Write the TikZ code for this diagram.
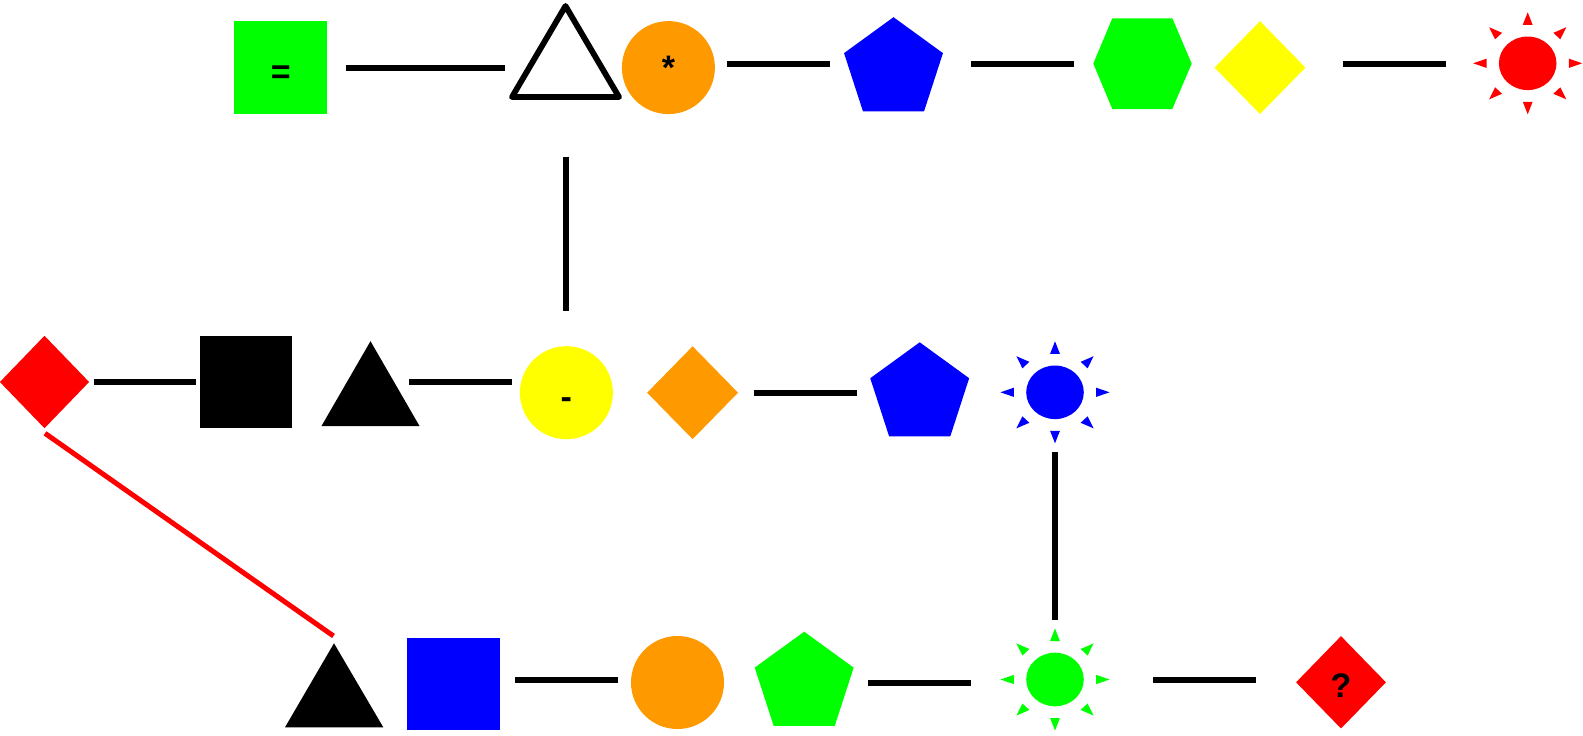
\documentclass[tikz,border=0pt]{standalone}
\usepackage{fontspec}
\setmainfont{Liberation Sans}
\usetikzlibrary{shapes.geometric,calc}
\definecolor{cgreen}{HTML}{00FF00}
\definecolor{corange}{HTML}{FF9900}
\definecolor{cblue}{HTML}{0000FF}
\definecolor{cyellow}{HTML}{FFFF00}
\definecolor{cred}{HTML}{FF0000}
\tikzset{
  conn/.style={line width=6pt, black},
  redconn/.style={line width=5pt, cred},
  lbl/.style={font=\fontsize{34}{38}\selectfont\bfseries, anchor=base, inner sep=0pt, text=black},
  sqbox/.style={rectangle, inner sep=0pt, minimum width=#1, minimum height=#1},
  circbox/.style={circle, inner sep=0pt, minimum size=93pt},
  diabox/.style 2 args={diamond, inner sep=0pt, minimum width=#1, minimum height=#2},
  pics/sun/.style={code={
    \coordinate (-c) at (0,0);
    \fill[#1] (0,0) ellipse (28.8 and 26.8);
    \begin{scope}[xscale=1.07]
      \foreach \a in {0,45,...,315}{\fill[#1,rotate=\a] (38.5,-4.6) -- (51,0) -- (38.5,4.6) -- cycle;}
    \end{scope}
  }}
}
\begin{document}
\begin{tikzpicture}[x=1pt,y=-1pt]
\useasboundingbox (0,0) rectangle (1583,736);

% ---------- row 1 ----------
\node[sqbox=93pt, fill=cgreen] (gsq) at (280.7,67.6) {};
\node[lbl] (tgsq) at (280.7,83) {=};
\coordinate (otri) at (565.5,6);
\draw[line width=5.8pt, line join=round, fill=white] (otri) -- (619,97) -- (512,97) -- cycle;
\node[circbox, fill=corange] (ocirc1) at (668.4,67.6) {};
\node[lbl] (tocirc1) at (668.4,79.5) {*};
\coordinate (bpent1) at (893.5,69.2);
\fill[cblue, shift={(bpent1)}] (-90:52) -- (-18:52) -- (54:52) -- (126:52) -- (198:52) -- cycle;
\coordinate (ghex) at (1142.5,63.6);
\fill[cgreen] (1112.3,18.3) -- (1172.3,18.3) -- (1191.7,63.6) -- (1172.3,109) -- (1112.3,109) -- (1093.3,63.6) -- cycle;
\node[diabox={91pt}{93pt}, fill=cyellow] (ydia) at (1260,67.6) {};
\pic (rsun) at (1527.7,63.3) {sun=cred};

% ---------- row 2 ----------
\node[diabox={89.4pt}{92.6pt}, fill=cred] (rdia1) at (44.5,382) {};
\node[sqbox=92pt, fill=black] (ksq) at (245.9,382.1) {};
\coordinate (ktri1) at (370.5,341.2);
\fill[black] (ktri1) -- (419.5,426) -- (321.5,426) -- cycle;
\node[circbox, fill=cyellow] (ycirc) at (566.4,392.7) {};
\node[lbl] (tycirc) at (566.4,408) {-};
\node[diabox={91pt}{93pt}, fill=corange] (odia) at (692.6,392.7) {};
\coordinate (bpent2) at (919.7,394.3);
\fill[cblue, shift={(bpent2)}] (-90:52) -- (-18:52) -- (54:52) -- (126:52) -- (198:52) -- cycle;
\pic (bsun) at (1055,392.3) {sun=cblue};

% ---------- row 3 ----------
\coordinate (ktri2) at (334,643.3);
\fill[black] (ktri2) -- (383.3,727.3) -- (285,727.3) -- cycle;
\node[sqbox=92.9pt, fill=cblue] (bsq) at (453.3,684) {};
\node[circbox, fill=corange] (ocirc2) at (677.5,682.5) {};
\coordinate (gpent) at (804.2,683.7);
\fill[cgreen, shift={(gpent)}] (-90:52) -- (-18:52) -- (54:52) -- (126:52) -- (198:52) -- cycle;
\pic (gsun) at (1055,679.5) {sun=cgreen};
\node[diabox={90pt}{92.5pt}, fill=cred] (rdia2) at (1341,682.3) {};
\node[lbl] (trdia2) at (1341,697.3) {?};

% ---------- connector ends ----------
\coordinate (c1a) at (346,68);   \coordinate (c1b) at (505,68);
\coordinate (c2a) at (727,63.6); \coordinate (c2b) at (830,63.6);
\coordinate (c3a) at (971,63.6); \coordinate (c3b) at (1074,63.6);
\coordinate (c4a) at (1343,63.6);\coordinate (c4b) at (1446,63.6);
\coordinate (c5a) at (566.4,156.5); \coordinate (c5b) at (566.4,311);
\coordinate (c6a) at (94,382);   \coordinate (c6b) at (196,382);
\coordinate (c7a) at (409,382);  \coordinate (c7b) at (512,382);
\coordinate (c8a) at (754,392.7);\coordinate (c8b) at (857,392.7);
\coordinate (c9a) at (1055,452); \coordinate (c9b) at (1055,620);
\coordinate (c10a) at (515,679.5); \coordinate (c10b) at (618,679.5);
\coordinate (c11a) at (868,682.5); \coordinate (c11b) at (971,682.5);
\coordinate (c12a) at (1153,679.5);\coordinate (c12b) at (1256,679.5);
\coordinate (r1a) at (45,433.3); \coordinate (r1b) at (333.5,636);

% ---------- connectors ----------
\draw[conn] (c1a) -- (c1b);
\draw[conn] (c2a) -- (c2b);
\draw[conn] (c3a) -- (c3b);
\draw[conn] (c4a) -- (c4b);
\draw[conn] (c5a) -- (c5b);
\draw[conn] (c6a) -- (c6b);
\draw[conn] (c7a) -- (c7b);
\draw[conn] (c8a) -- (c8b);
\draw[conn] (c9a) -- (c9b);
\draw[conn] (c10a) -- (c10b);
\draw[conn] (c11a) -- (c11b);
\draw[conn] (c12a) -- (c12b);
\draw[redconn] (r1a) -- (r1b);
\end{tikzpicture}
\end{document}
